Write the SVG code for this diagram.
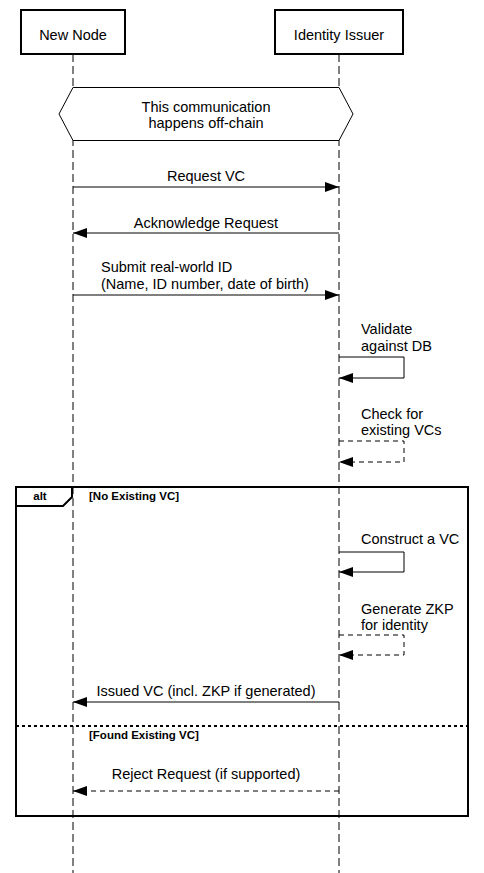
<svg xmlns="http://www.w3.org/2000/svg" width="484" height="873" viewBox="0 0 484 873">
<style>
text{font-family:"Liberation Sans",Arial,sans-serif;font-size:14.5px;fill:#000}
.c{text-anchor:middle}
.b{font-weight:bold;font-size:11.5px}
.actor{fill:#fff;stroke:#000;stroke-width:2}
.life{stroke:#000;stroke-width:1;stroke-dasharray:8,4;fill:none}
.msg{stroke:#000;stroke-width:1;fill:none}
.dash{stroke-dasharray:5,4}
.frame{fill:none;stroke:#000;stroke-width:2}
</style>
<defs>
<marker id="ah" markerWidth="14" markerHeight="10" refX="14" refY="5" orient="auto" markerUnits="userSpaceOnUse">
<path d="M0,0 L14,5 L0,10 Z" fill="#000"/>
</marker>
</defs>
<rect width="484" height="873" fill="#fff"/>
<g id="lifelines">
<line class="life" x1="73" y1="54" x2="73" y2="873"/>
<line class="life" x1="339" y1="54" x2="339" y2="873"/>
</g>
<g id="new-node">
<rect class="actor" x="21" y="10" width="104" height="44"/>
<text class="c" x="73" y="39.5">New Node</text>
</g>
<g id="identity-issuer">
<rect class="actor" x="275" y="10" width="128" height="44"/>
<text class="c" x="339" y="39.5">Identity Issuer</text>
</g>
<g id="note">
<polygon points="73,87.5 339,87.5 353,114 339,140.5 73,140.5 59,114" fill="#fff" stroke="#000" stroke-width="1"/>
<text class="c" x="206" y="111.5">This communication</text>
<text class="c" x="206" y="128">happens off-chain</text>
</g>
<g id="alt-frame">
<rect class="frame" x="16" y="487" width="452" height="329"/>
<path d="M16,506 L63,506 L72,497 L72,487" fill="none" stroke="#000" stroke-width="2"/>
<text class="b c" x="40" y="500">alt</text>
<text class="b" x="89" y="500">[No Existing VC]</text>
<line x1="16" y1="726" x2="468" y2="726" stroke="#000" stroke-width="2" stroke-dasharray="3,3"/>
<text class="b" x="89" y="739">[Found Existing VC]</text>
</g>
<g id="connectors">
<line class="msg" x1="73" y1="187" x2="339" y2="187" marker-end="url(#ah)"/>
<text class="c" x="206" y="181">Request VC</text>
<line class="msg" x1="339" y1="233" x2="73" y2="233" marker-end="url(#ah)"/>
<text class="c" x="206" y="227.5">Acknowledge Request</text>
<line class="msg" x1="73" y1="295" x2="339" y2="295" marker-end="url(#ah)"/>
<text x="101" y="272">Submit real-world ID</text>
<text x="101" y="289">(Name, ID number, date of birth)</text>
<polyline class="msg" points="339,357 404,357 404,378 339,378" marker-end="url(#ah)"/>
<text x="361" y="333.5">Validate</text>
<text x="361" y="350.5">against DB</text>
<polyline class="msg dash" points="339,441 404,441 404,462 339,462" marker-end="url(#ah)"/>
<text x="361" y="418.5">Check for</text>
<text x="361" y="435">existing VCs</text>
<polyline class="msg" points="339,552 404,552 404,572 339,572" marker-end="url(#ah)"/>
<text x="361" y="543.5">Construct a VC</text>
<polyline class="msg dash" points="339,635 404,635 404,655 339,655" marker-end="url(#ah)"/>
<text x="361" y="613.5">Generate ZKP</text>
<text x="361" y="630">for identity</text>
<line class="msg" x1="339" y1="702" x2="73" y2="702" marker-end="url(#ah)"/>
<text class="c" x="206" y="696">Issued VC (incl. ZKP if generated)</text>
<line class="msg dash" x1="339" y1="791" x2="73" y2="791" marker-end="url(#ah)"/>
<text class="c" x="206" y="779">Reject Request (if supported)</text>
</g>
</svg>
